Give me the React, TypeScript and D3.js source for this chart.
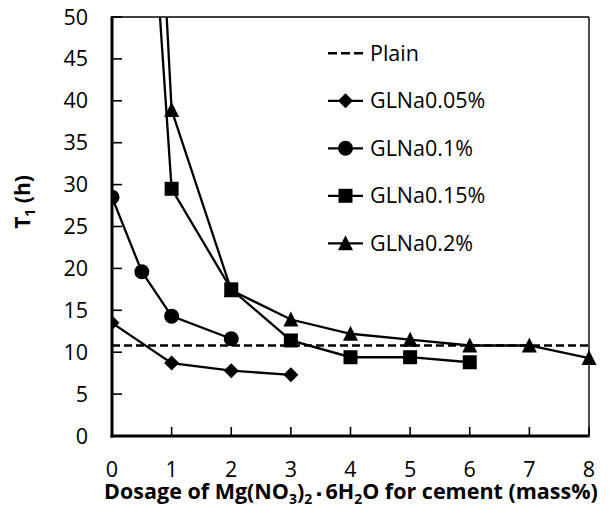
import React from 'react';
import * as d3 from 'd3';

// T1 (h) vs dosage of Mg(NO3)2·6H2O
const plainT1 = 10.8;

const dose005 = [0, 1, 2, 3];
const t1005 = [13.5, 8.7, 7.8, 7.3];

const dose01 = [0, 0.5, 1, 2];
const t101 = [28.5, 19.6, 14.3, 11.6];

const dose015 = [0.5, 1, 2, 3, 4, 5, 6];
const t1015 = [82, 29.5, 17.5, 11.4, 9.4, 9.4, 8.8];

const dose02 = [0.5, 1, 2, 3, 4, 5, 6, 7, 8];
const t102 = [106, 38.9, 17.4, 13.9, 12.2, 11.5, 10.8, 10.8, 9.3];

const xTicks = [0, 1, 2, 3, 4, 5, 6, 7, 8];
const yTicks = [0, 5, 10, 15, 20, 25, 30, 35, 40, 45, 50];

const legendNames = ['GLNa0.05%', 'GLNa0.1%', 'GLNa0.15%', 'GLNa0.2%'];

const FONT = '"Open Sans", "Liberation Sans", sans-serif';
const FS = 21.5;

const markerPath = (kind: string) => {
  if (kind === 'diamond') return 'M0,-7.5L7.5,0L0,7.5L-7.5,0Z';
  if (kind === 'square') return 'M-7,-7H7V7H-7Z';
  if (kind === 'triangle') return 'M0,-8L7.5,7L-7.5,7Z';
  return d3.symbol(d3.symbolCircle, 177)() as string;
};

export default function App() {
  const width = 610;
  const height = 519;
  const x = d3.scaleLinear().domain([0, 8]).range([112, 589]);
  const y = d3.scaleLinear().domain([0, 50]).range([436, 17]);

  const series = [
    { xs: dose005, ys: t1005, kind: 'diamond' },
    { xs: dose01, ys: t101, kind: 'circle' },
    { xs: dose015, ys: t1015, kind: 'square' },
    { xs: dose02, ys: t102, kind: 'triangle' },
  ];

  const line = d3.line<[number, number]>()
    .x(d => x(d[0]))
    .y(d => y(d[1]));

  const legX = 328;
  const legY0 = 53.3;
  const legStep = 47.5;

  return (
    <svg width={width} height={height} style={{ position: 'absolute', left: 0, top: 0 }}
      fontFamily={FONT}>
      <defs>
        <clipPath id="plotClip">
          <rect x={x(0)} y={y(50)} width={x(8) - x(0) + 10} height={y(0) - y(50)} />
        </clipPath>
      </defs>
      <rect width={width} height={height} fill="#fff" />

      {/* frame */}
      <line x1={x(0)} x2={x(8)} y1={y(50)} y2={y(50)} stroke="#000" strokeWidth={1.4} />
      <line x1={x(8)} x2={x(8)} y1={y(50)} y2={y(0)} stroke="#000" strokeWidth={1.4} />

      {/* y ticks */}
      {yTicks.map(t => (
        <g key={'y' + t}>
          <line x1={x(0)} x2={x(0) + 10} y1={y(t)} y2={y(t)} stroke="#000" strokeWidth={1.6} />
          <text x={88} y={y(t)} dy="0.35em" textAnchor="end" fontSize={FS}>{t}</text>
        </g>
      ))}
      {/* x ticks */}
      {xTicks.map(t => (
        <g key={'x' + t}>
          <line x1={x(t)} x2={x(t)} y1={y(0)} y2={y(0) - 9} stroke="#000" strokeWidth={1.6} />
          <text x={x(t)} y={469} dy="0.35em" textAnchor="middle" fontSize={FS}>{t}</text>
        </g>
      ))}

      {/* plain */}
      <line x1={x(0)} x2={x(8)} y1={y(plainT1)} y2={y(plainT1)} stroke="#000"
        strokeWidth={2.6} strokeDasharray="8,4" />

      <g clipPath="url(#plotClip)">
        {series.map((s, i) => (
          <path key={'l' + i} d={line(s.xs.map((v, j) => [v, s.ys[j]] as [number, number])) as string}
            fill="none" stroke="#000" strokeWidth={2.3} />
        ))}
        {series.map((s, i) => s.xs.map((v, j) => (
          <path key={'m' + i + '-' + j} d={markerPath(s.kind)}
            transform={`translate(${x(v)},${y(s.ys[j])})`} fill="#000" />
        )))}
      </g>

      {/* axes */}
      <line x1={x(0)} x2={x(0)} y1={y(50) - 0.7} y2={y(0) + 1.5} stroke="#000" strokeWidth={3} />
      <line x1={x(0) - 1.5} x2={x(8) + 0.7} y1={y(0)} y2={y(0)} stroke="#000" strokeWidth={3} />

      {/* legend */}
      <line x1={legX} x2={legX + 35} y1={legY0} y2={legY0} stroke="#000" strokeWidth={2.6}
        strokeDasharray="9,4" />
      <text x={legX + 42} y={legY0} dy="0.35em" fontSize={FS}>Plain</text>
      {series.map((s, i) => {
        const ly = legY0 + legStep * (i + 1);
        return (
          <g key={'leg' + i}>
            <line x1={legX} x2={legX + 35} y1={ly} y2={ly} stroke="#000" strokeWidth={2.3} />
            <path d={markerPath(s.kind)} transform={`translate(${legX + 17.5},${ly})`} fill="#000" />
            <text x={legX + 42} y={ly} dy="0.35em" fontSize={FS}>{legendNames[i]}</text>
          </g>
        );
      })}

      {/* axis titles */}
      <text transform="translate(30,202) rotate(-90)" textAnchor="middle" fontSize={21} fontWeight="bold">
        T<tspan fontSize={14} dy={5}>1</tspan><tspan dy={-5}> (h)</tspan>
      </text>
      <text x={351} y={499} textAnchor="middle" fontSize={FS} fontWeight="bold">
        Dosage of Mg(NO<tspan fontSize={14} dy={5}>3</tspan><tspan dy={-5}>)</tspan>
        <tspan fontSize={14} dy={5}>2</tspan><tspan dy={-5} fontSize={15}>{' \u25AA '}</tspan>
        <tspan>6H</tspan><tspan fontSize={14} dy={5}>2</tspan><tspan dy={-5}>O for cement (mass%)</tspan>
      </text>
    </svg>
  );
}
